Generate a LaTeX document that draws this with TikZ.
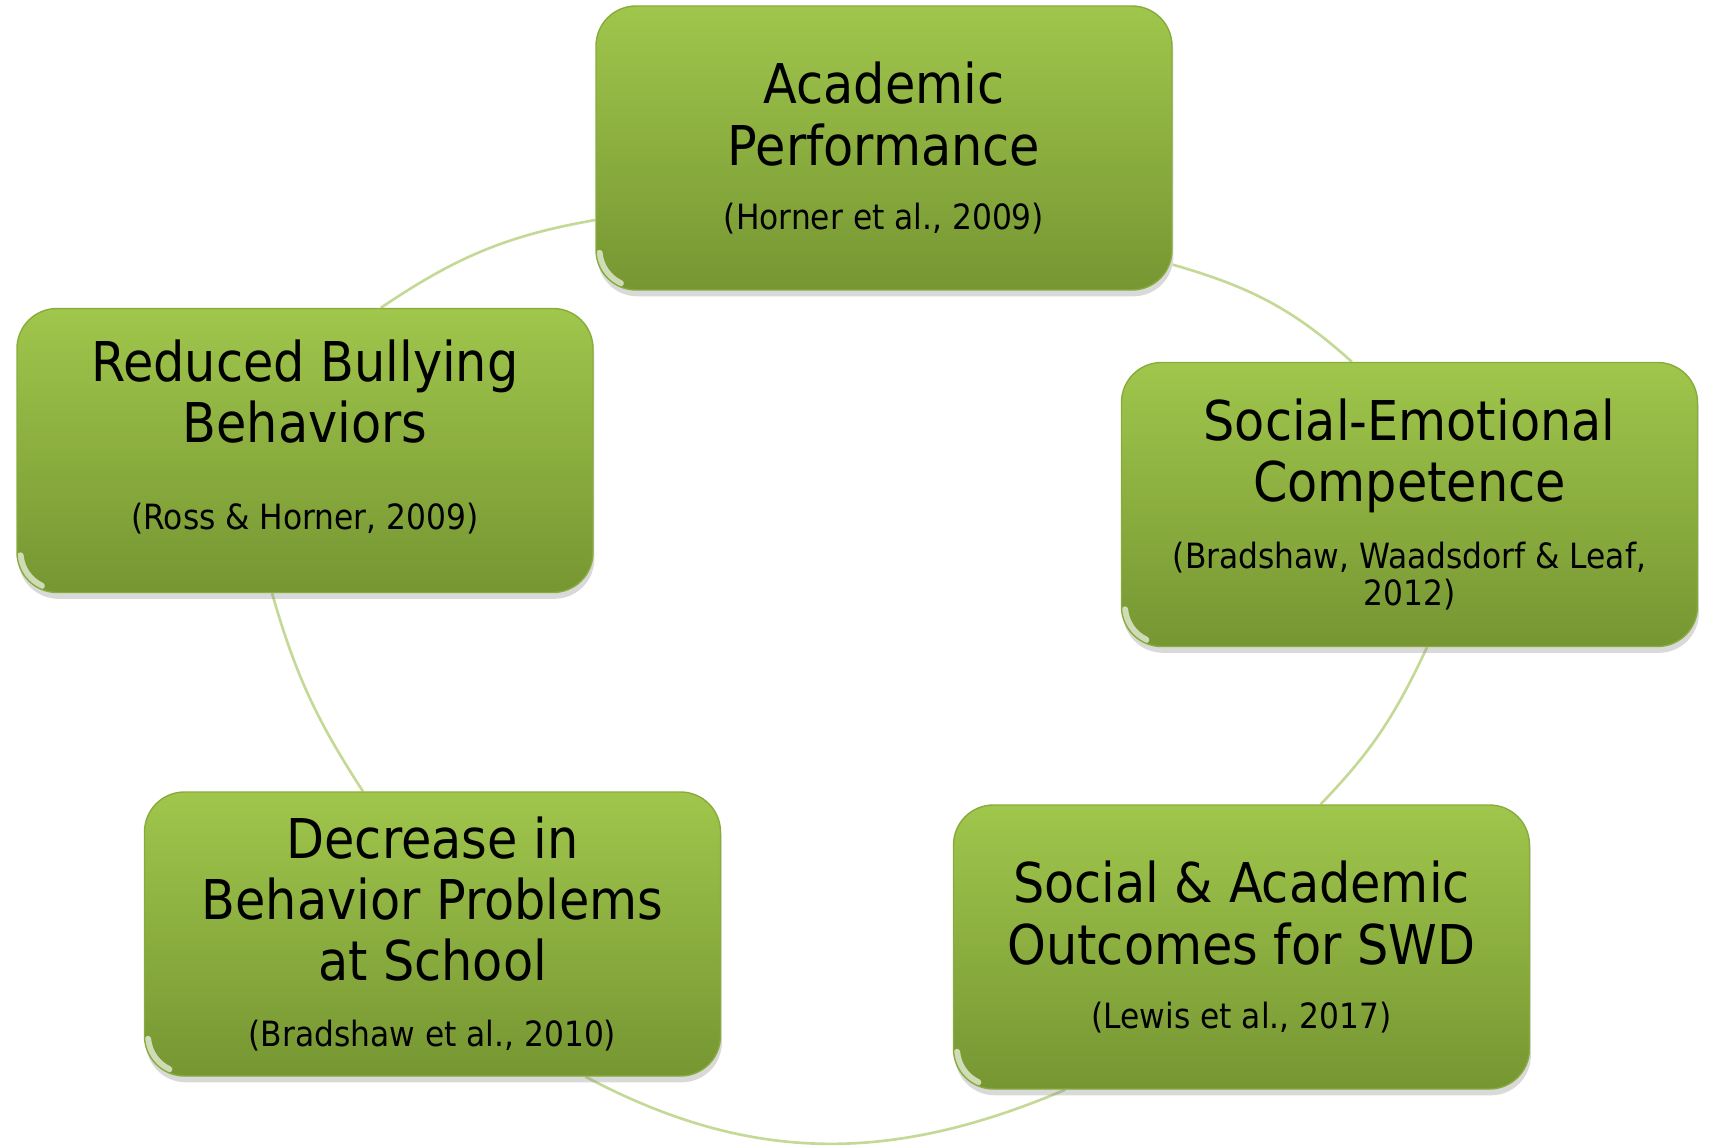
\documentclass[tikz,border=0pt]{standalone}
\usepackage{fontspec}
\setmainfont{DejaVu Sans Condensed}
\usepackage{tikz}
\usetikzlibrary{shadows,backgrounds}

\definecolor{boxtop}{RGB}{160,198,76}
\definecolor{boxbot}{RGB}{118,150,50}
\definecolor{boxrim}{RGB}{136,172,60}
\definecolor{ringgreen}{RGB}{196,217,150}

\newcommand{\refnote}[1]{{\fontsize{9.9}{10.8}\selectfont #1}}

\begin{document}
\begin{tikzpicture}[
        outcome/.style={rectangle, rounded corners=0.4cm, minimum width=5.76cm, minimum height=2.84cm,
            top color=boxtop, bottom color=boxbot, draw=boxrim, line width=0.4pt,
            drop shadow={shadow xshift=0.4pt, shadow yshift=-1.8pt, opacity=0.3},
            align=center, inner sep=0pt, font=\fontsize{15.6}{17.4}\selectfont,
            path picture={
                \draw[white, opacity=0.65, line width=1.8pt, line cap=round]
                    ([shift={(0.035,0.37)}]path picture bounding box.south west)
                    arc[start angle=185, end angle=245, radius=0.37];
            }},
        cycleline/.style={draw=ringgreen, line width=0.75pt}]
            \useasboundingbox (0,0) rectangle (17.11,11.45);

            \node[outcome]  (acad)   at (8.84,9.97)    {Academic\\Performance\\[0.8pt]\refnote{(Horner et al., 2009)}};
            \node[outcome]  (social) at (14.095,6.405) {Social-Emotional\\Competence\\[1.6pt]\refnote{(Bradshaw, Waadsdorf \& Leaf,}\\[-6.6pt]\refnote{2012)}};
            \node[outcome]  (swd)    at (12.415,1.98)  {Social \& Academic\\Outcomes for SWD\\[0.8pt]\refnote{(Lewis et al., 2017)}};
            \node[outcome]  (behav)  at (4.325,2.11)   {Decrease in\\Behavior Problems\\at School\\[1.4pt]\refnote{(Bradshaw et al., 2010)}};
            \node[outcome, text depth=9pt] (bully) at (3.05,6.945) {Reduced Bullying\\Behaviors\\[7.3pt]\refnote{(Ross \& Horner, 2009)}};

            % arcs of the cycle, behind the boxes
            \begin{scope}[on background layer]
            \path[cycleline]
                (acad.194)   edge [out=190, in=34]  (bully.62)
                (bully.257)  edge [out=-74, in=123] (behav.116)
                (behav.-43)  edge [out=-28, in=203] (swd.219)
                (swd.61)     edge [out=46, in=245]  (social.277)
                (social.112) edge [out=138, in=-16] (acad.-22);
            \end{scope}
        \end{tikzpicture}
\end{document}
